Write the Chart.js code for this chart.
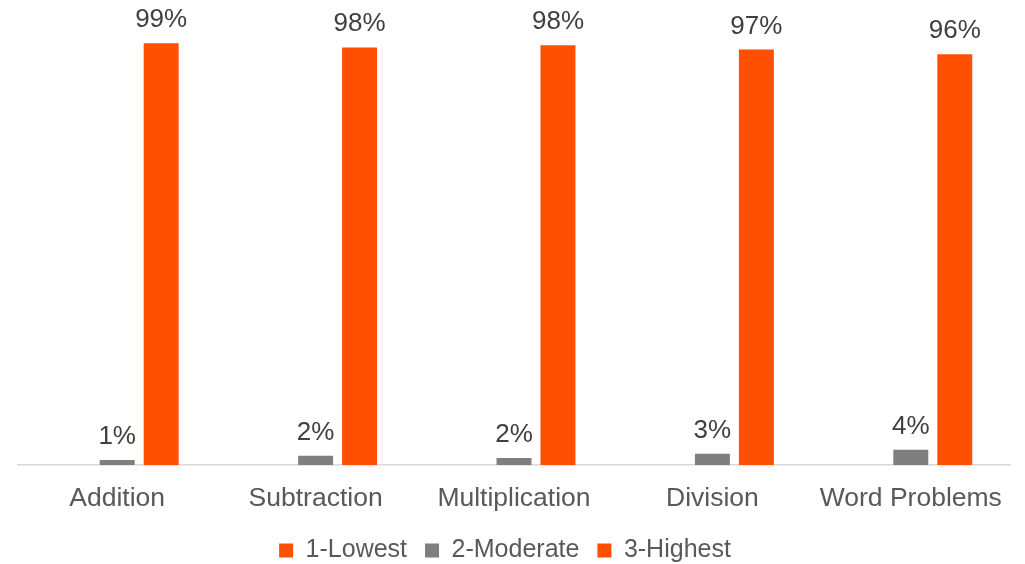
<!DOCTYPE html>
<html>
<head>
<meta charset="utf-8">
<script src="https://cdn.jsdelivr.net/npm/chart.js@4"></script>
<style>
  html, body { margin: 0; padding: 0; background: #ffffff; }
  #wrap { width: 1025px; height: 564px; }
</style>
</head>
<body>
<div id="wrap"><canvas id="skillChart" width="1025" height="564"></canvas></div>
<script>
// Chart data
const categories = ['Addition', 'Subtraction', 'Multiplication', 'Division', 'Word Problems'];
const seriesNames = ['1-Lowest', '2-Moderate', '3-Highest'];
const lowestValues = [0, 0, 0, 0, 0];
const moderateValues = [1.2, 2.2, 1.7, 2.7, 3.6];
const highestValues = [98.8, 97.8, 98.3, 97.3, 96.2];

const ORANGE = '#FE5000';
const GRAY = '#7F7F7F';
const FONT = "'Liberation Sans', Arial, sans-serif";

// draws the percentage above each non-zero bar
const barLabels = {
    id: 'barLabels',
    afterDatasetsDraw(chart) {
        const ctx = chart.ctx;
        ctx.save();
        ctx.font = '26px ' + FONT;
        ctx.fillStyle = '#404040';
        ctx.textAlign = 'center';
        ctx.textBaseline = 'alphabetic';
        chart.data.datasets.forEach((ds, i) => {
            const meta = chart.getDatasetMeta(i);
            meta.data.forEach((bar, j) => {
                const v = ds.data[j];
                if (!v) return;
                ctx.fillText(Math.round(v) + '%', bar.x, bar.y - 16);
            });
        });
        ctx.restore();
    }
};

// the legend in the reference sits a little left of the plot centre
const legendShift = {
    id: 'legendShift',
    afterLayout(chart) {
        if (chart.legend) {
            chart.legend.left -= 9;
            chart.legend.right -= 9;
        }
    }
};

document.addEventListener('DOMContentLoaded', function() {
    const ctx = document.getElementById('skillChart').getContext('2d');

    new Chart(ctx, {
        type: 'bar',
        data: {
            labels: categories,
            datasets: [
                { label: seriesNames[0], data: lowestValues, backgroundColor: ORANGE, borderWidth: 0 },
                { label: seriesNames[1], data: moderateValues, backgroundColor: GRAY, borderWidth: 0 },
                { label: seriesNames[2], data: highestValues, backgroundColor: ORANGE, borderWidth: 0 }
            ]
        },
        options: {
            responsive: false,
            animation: false,
            devicePixelRatio: 1,
            layout: { padding: { top: 38, left: 18, right: 15, bottom: -9 } },
            datasets: {
                bar: { categoryPercentage: 0.665, barPercentage: 0.795 }
            },
            plugins: {
                legend: {
                    position: 'bottom',
                    labels: {
                        boxWidth: 14,
                        boxHeight: 14,
                        padding: 18,
                        color: '#595959',
                        font: { family: FONT, size: 25 }
                    }
                },
                tooltip: { enabled: false },
                title: { display: false }
            },
            scales: {
                y: {
                    display: false,
                    min: 0,
                    max: 100
                },
                x: {
                    grid: { display: false },
                    border: { display: true, color: '#D9D9D9', width: 1.5 },
                    ticks: {
                        color: '#595959',
                        font: { family: FONT, size: 26.5 },
                        maxRotation: 0,
                        padding: 10
                    },
                    // pull the plot floor down so the axis sits where it does in the reference
                    afterFit: function(scale) {
                        scale.height -= 5;
                    }
                }
            }
        },
        plugins: [barLabels, legendShift]
    });
});
</script>
</body>
</html>
